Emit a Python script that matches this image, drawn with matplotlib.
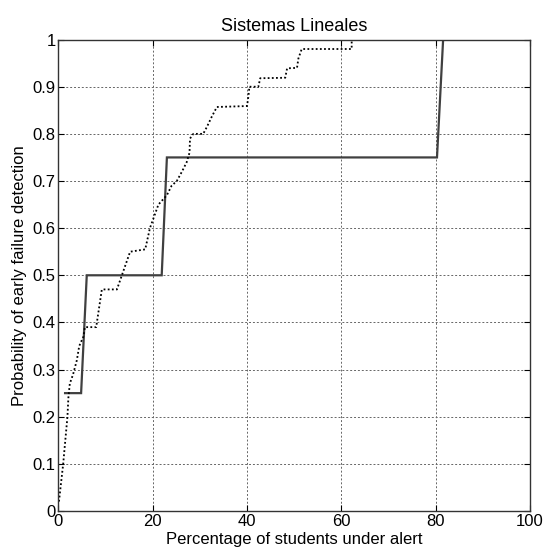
#!/usr/bin/env python3
"""Early failure detection curve -- Sistemas Lineales (MATLAB-style figure)."""
import matplotlib
matplotlib.use("Agg")
import matplotlib.pyplot as plt

# Solid curve: step detector
solid_x = [1.4, 4.8, 6.0, 21.9, 23.0, 80.3, 81.6]
solid_y = [0.25, 0.25, 0.50, 0.50, 0.75, 0.75, 1.00]

# Dotted curve: fine-grained detector
dotted_x = [0.1, 1.0, 1.9, 2.1, 2.4, 3.1, 3.9, 4.4, 5.3, 5.6, 8.0, 9.2,
            12.4, 13.8, 15.2, 18.4, 19.4, 21.2, 23.0, 24.0, 25.1, 26.2,
            27.2, 27.8, 27.9, 28.6, 30.7, 31.5, 32.5, 33.6, 40.0, 40.3,
            40.5, 42.4, 42.8, 48.1, 48.5, 50.6, 50.9, 51.6, 62.2, 62.2]
dotted_y = [0.02, 0.10, 0.20, 0.24, 0.27, 0.29, 0.32, 0.35, 0.37, 0.39,
            0.39, 0.47, 0.47, 0.51, 0.55, 0.555, 0.60, 0.65, 0.67, 0.69,
            0.70, 0.72, 0.74, 0.76, 0.79, 0.80, 0.80, 0.815, 0.836, 0.857,
            0.859, 0.88, 0.90, 0.90, 0.918, 0.919, 0.939, 0.94, 0.96, 0.98,
            0.98, 1.00]

x_ticks = [0, 20, 40, 60, 80, 100]
y_ticks = [0, 0.1, 0.2, 0.3, 0.4, 0.5, 0.6, 0.7, 0.8, 0.9, 1]
y_ticklabels = ["0", "0.1", "0.2", "0.3", "0.4", "0.5", "0.6", "0.7",
                "0.8", "0.9", "1"]

plt.rcParams["font.family"] = ["Liberation Sans", "DejaVu Sans"]
plt.rcParams["font.size"] = 12

fig = plt.figure(figsize=(5.44, 5.52), dpi=100)
ax = fig.add_axes([0.1075, 0.0743, 0.8665, 0.8540])

ax.plot(solid_x, solid_y, color="#404040", lw=1.6, solid_joinstyle="miter")
ax.plot(dotted_x, dotted_y, color="black", lw=1.3, linestyle=(0, (1, 1.3)))

ax.set_xlim(0, 100)
ax.set_ylim(0, 1)
ax.set_xticks(x_ticks)
ax.set_yticks(y_ticks)
ax.set_yticklabels(y_ticklabels)
ax.tick_params(direction="in", length=4, width=0.8, top=True, right=True,
               pad=2, labelsize=12)
ax.grid(True, color="0.4", linestyle=(0, (2, 2)), lw=0.7)
for sp in ax.spines.values():
    sp.set_color("#333333")
    sp.set_linewidth(1.0)

ax.set_title("Sistemas Lineales", fontsize=13, pad=6)
ax.set_xlabel("Percentage of students under alert", fontsize=12, labelpad=2)
ax.set_ylabel("Probability of early failure detection", fontsize=12,
              labelpad=4)

fig.savefig("out.png", dpi=100, facecolor="white")
